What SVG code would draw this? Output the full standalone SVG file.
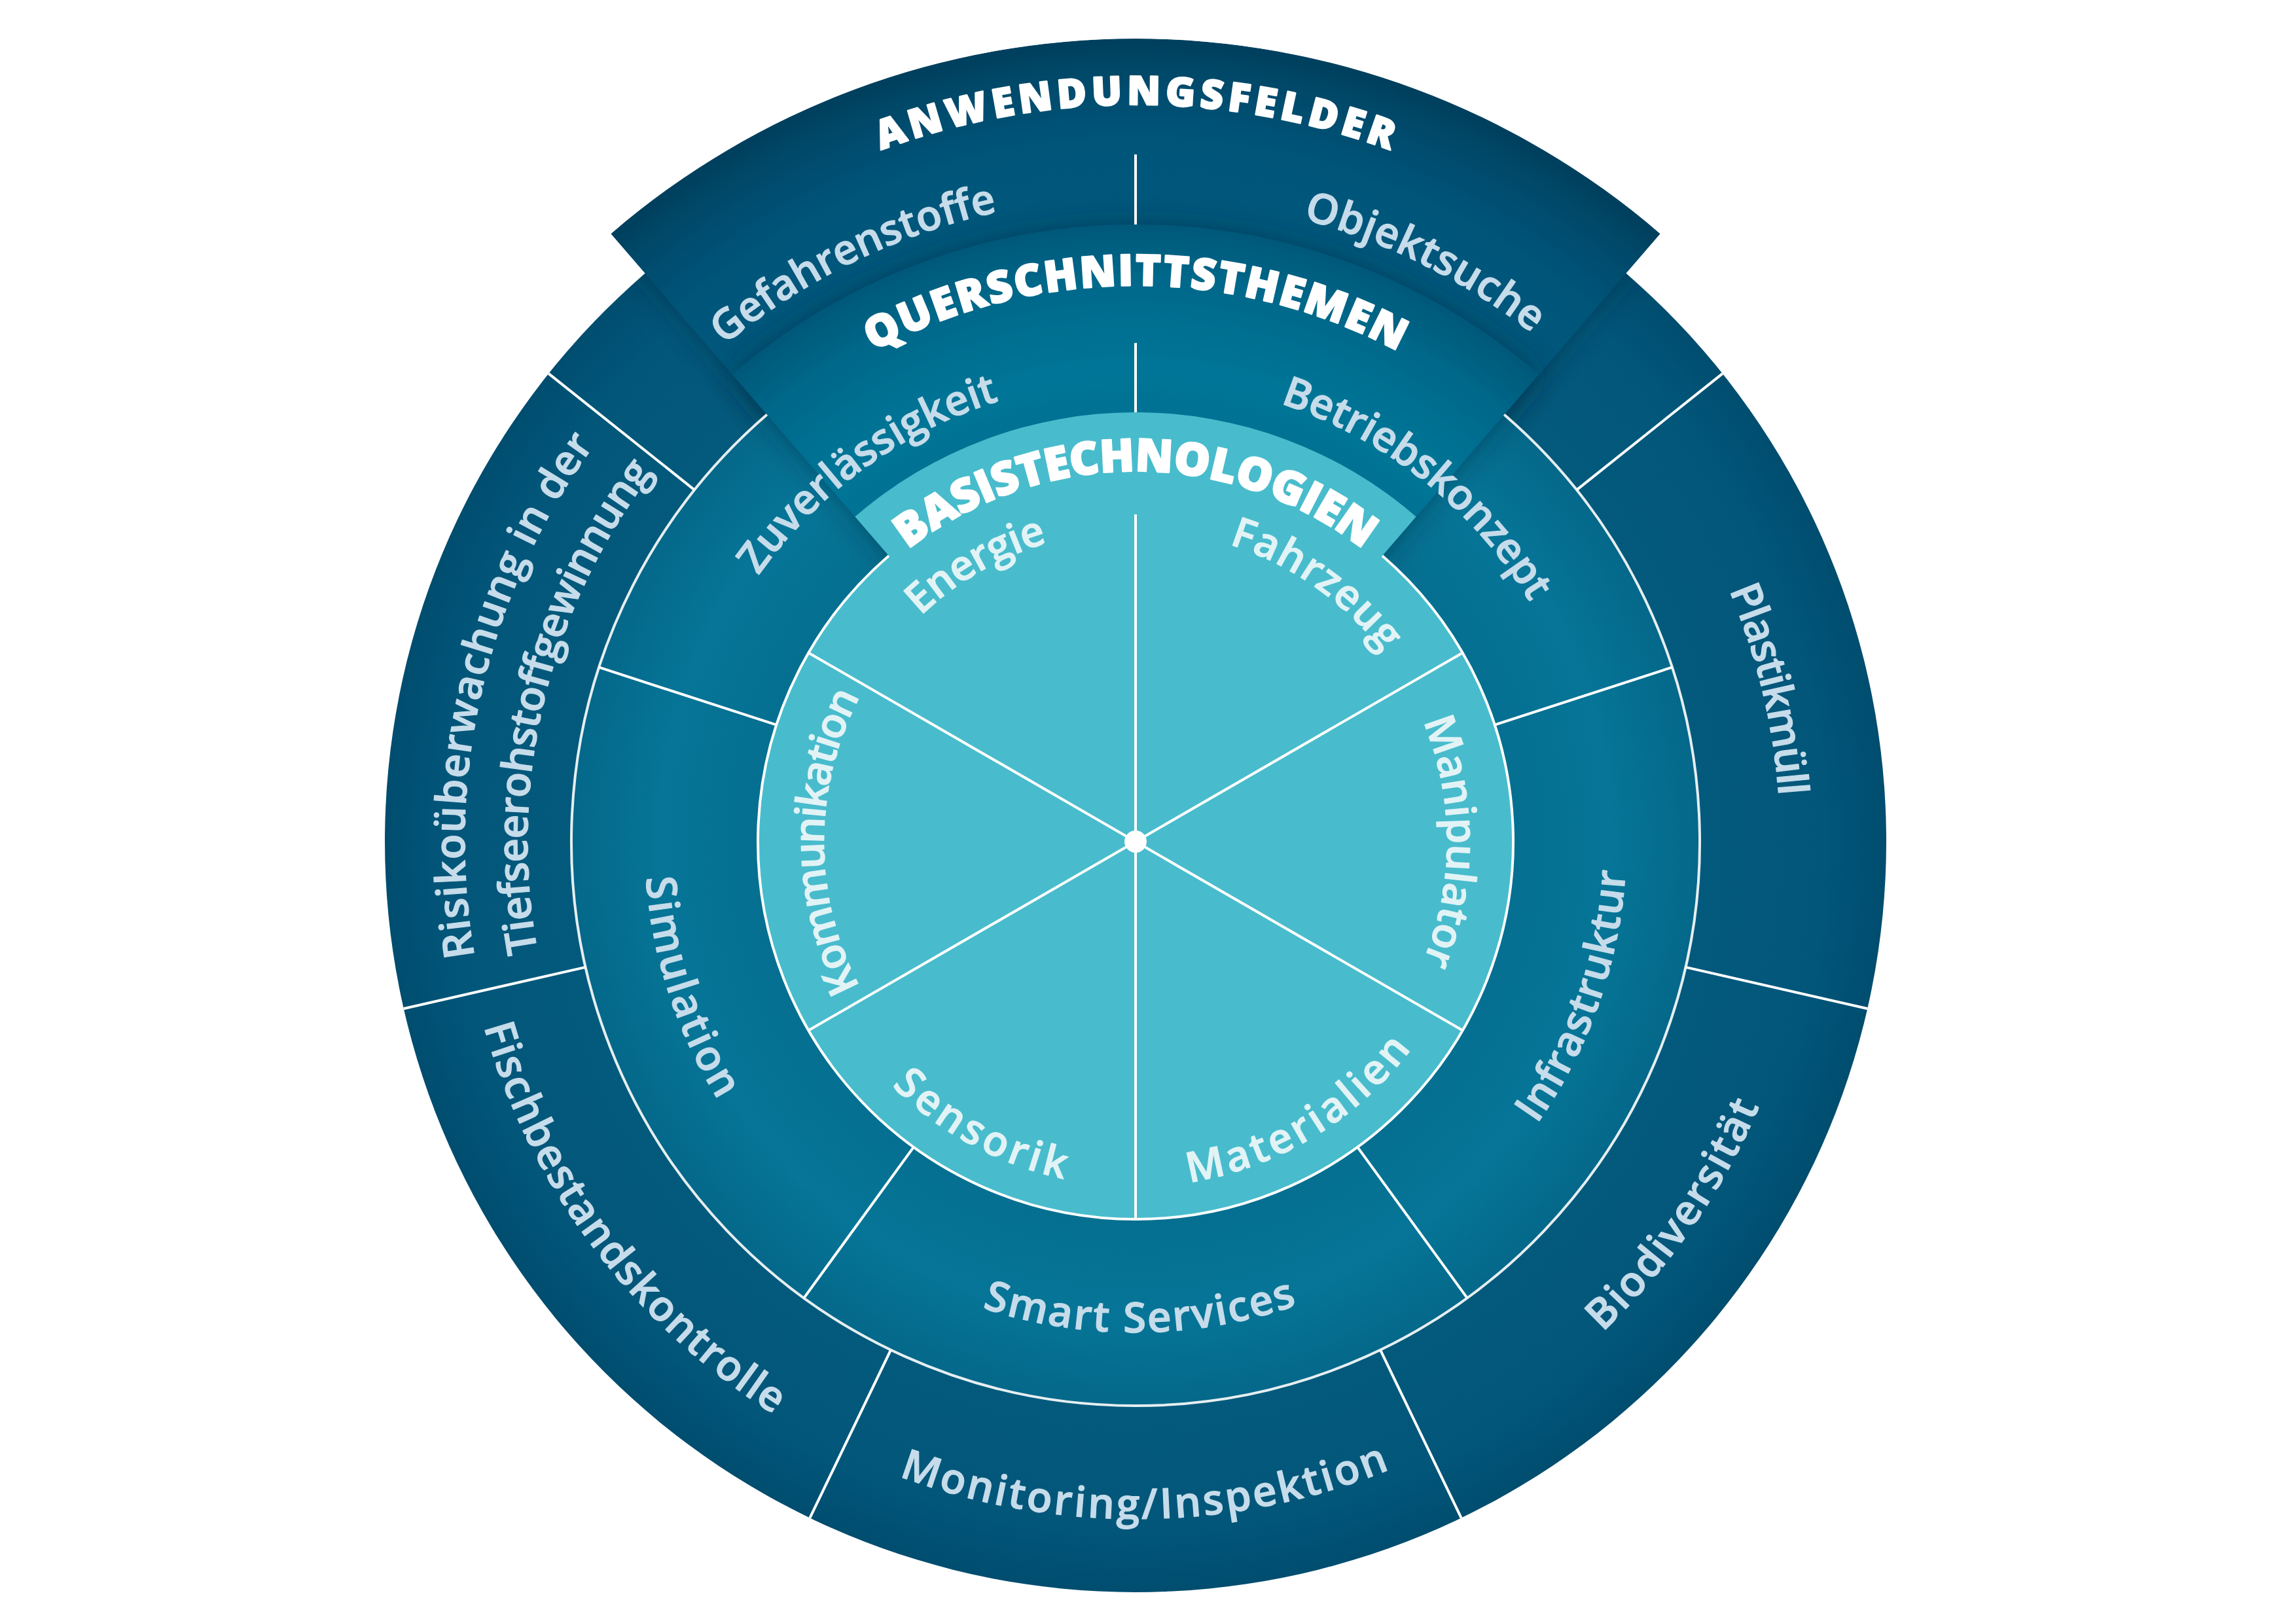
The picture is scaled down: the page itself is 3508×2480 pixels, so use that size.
<svg xmlns="http://www.w3.org/2000/svg" width="3508" height="2480" viewBox="0 0 3508 2480">
<defs>
<style>
.lbl{font-family:"Open Sans","Noto Sans","DejaVu Sans",sans-serif;font-size:64px;font-weight:600;fill:#c6dcea;stroke:#c6dcea;stroke-width:1.2;stroke-linejoin:round;text-anchor:middle}
.in{fill:#e2f3f6;stroke:#e2f3f6}
.head{font-weight:800;fill:#ffffff;stroke:#ffffff;stroke-width:2.5}
.sep{stroke:#ffffff;stroke-width:4;fill:none}
.ring{stroke:#e6eef1;stroke-width:4;fill:none}
</style>
<radialGradient id="gOuter" gradientUnits="userSpaceOnUse" cx="1735" cy="1286" r="1227">
<stop offset="0.70" stop-color="#035a7c"/>
<stop offset="0.86" stop-color="#02567a"/>
<stop offset="0.935" stop-color="#004d6f"/>
<stop offset="1" stop-color="#003f5d"/>
</radialGradient>
<radialGradient id="gMid" gradientUnits="userSpaceOnUse" cx="1735" cy="1286" r="943">
<stop offset="0.6" stop-color="#056f90"/>
<stop offset="0.77" stop-color="#067597"/>
<stop offset="0.914" stop-color="#04688a"/>
<stop offset="1" stop-color="#035879"/>
</radialGradient>
<filter id="shadow" x="-0.2" y="-0.2" width="1.4" height="1.4">
<feDropShadow dx="0" dy="0" stdDeviation="22" flood-color="#00263a" flood-opacity="0.5"/>
</filter>
<clipPath id="clipOuter"><path d="M933.3,357.2 A1227,1227 0 0 1 2536.7,357.2 L2484.5,417.7 A1147,1147 0 1 1 985.5,417.7 Z"/></clipPath>
<path id="cw476" d="M1259,1286 A476,476 0 0 1 2211,1286"/>
<path id="cw705" d="M1030,1286 A705,705 0 0 1 2440,1286"/>
<path id="cw985" d="M750,1286 A985,985 0 0 1 2720,1286"/>
<path id="cw1025" d="M710,1286 A1025,1025 0 0 1 2760,1286"/>
<path id="cw929" d="M806,1286 A929,929 0 0 1 2664,1286"/>
<path id="cw1126" d="M609,1286 A1126,1126 0 0 1 2861,1286"/>
<path id="cw850" d="M885,1286 A850,850 0 0 1 2585,1286"/>
<path id="cw566" d="M1169,1286 A566,566 0 0 1 2301,1286"/>
<path id="ccw527" d="M1208,1286 A527,527 0 0 0 2262,1286"/>
<path id="ccw750" d="M985,1286 A750,750 0 0 0 2485,1286"/>
<path id="ccw1035" d="M700,1286 A1035,1035 0 0 0 2770,1286"/>
</defs>
<rect width="3508" height="2480" fill="#ffffff"/>

<g id="rings">
<circle cx="1735" cy="1286" r="1147" fill="url(#gOuter)"/>
<path d="M1735,1286 L933.3,357.2 A1227,1227 0 0 1 2536.7,357.2 Z" fill="url(#gOuter)" filter="url(#shadow)" clip-path="url(#clipOuter)"/>
<circle cx="1735" cy="1286" r="862" fill="url(#gMid)"/>
<path d="M1735,1286 L1118.8,572.1 A943,943 0 0 1 2351.2,572.1 Z" fill="url(#gMid)" filter="url(#shadow)"/>
<path d="M1306.4,789.4 A656,656 0 0 1 2163.6,789.4 L2112.0,849.2 A577,577 0 1 1 1358.0,849.2 Z" fill="#48bccc"/>
</g>

<g id="connectors">
<path class="ring" d="M2298.2,633.5 A862,862 0 1 1 1171.8,633.5"/>
<path class="sep" d="M2112.0,849.2 A577,577 0 1 1 1358.0,849.2"/>
<g class="sep">
<line x1="1735" y1="1286" x2="1735" y2="786"/>
<line x1="1735" y1="1286" x2="1735" y2="709" transform="rotate(60 1735 1286)"/>
<line x1="1735" y1="1286" x2="1735" y2="709" transform="rotate(120 1735 1286)"/>
<line x1="1735" y1="1286" x2="1735" y2="709" transform="rotate(180 1735 1286)"/>
<line x1="1735" y1="1286" x2="1735" y2="709" transform="rotate(240 1735 1286)"/>
<line x1="1735" y1="1286" x2="1735" y2="709" transform="rotate(300 1735 1286)"/>
<line x1="1735" y1="630" x2="1735" y2="524"/>
<line x1="1735" y1="709" x2="1735" y2="424" transform="rotate(72 1735 1286)"/>
<line x1="1735" y1="709" x2="1735" y2="424" transform="rotate(144 1735 1286)"/>
<line x1="1735" y1="709" x2="1735" y2="424" transform="rotate(216 1735 1286)"/>
<line x1="1735" y1="709" x2="1735" y2="424" transform="rotate(288 1735 1286)"/>
<line x1="1735" y1="343" x2="1735" y2="236"/>
<line x1="1735" y1="424" x2="1735" y2="139" transform="rotate(51.43 1735 1286)"/>
<line x1="1735" y1="424" x2="1735" y2="139" transform="rotate(102.86 1735 1286)"/>
<line x1="1735" y1="424" x2="1735" y2="139" transform="rotate(154.29 1735 1286)"/>
<line x1="1735" y1="424" x2="1735" y2="139" transform="rotate(205.71 1735 1286)"/>
<line x1="1735" y1="424" x2="1735" y2="139" transform="rotate(257.14 1735 1286)"/>
<line x1="1735" y1="424" x2="1735" y2="139" transform="rotate(308.57 1735 1286)"/>
</g>
<circle cx="1735" cy="1286" r="17" fill="#ffffff"/>
</g>

<g id="headings">
<text class="lbl head" style="font-size:61px"><textPath href="#cw1126" startOffset="50%" textLength="794" lengthAdjust="spacing">ANWENDUNGSFELDER</textPath></text>
<text class="lbl head" style="font-size:66px"><textPath href="#cw850" startOffset="50%" textLength="835" lengthAdjust="spacing">QUERSCHNITTSTHEMEN</textPath></text>
<text class="lbl head" style="font-size:69px"><textPath href="#cw566" startOffset="50%" textLength="749" lengthAdjust="spacing">BASISTECHNOLOGIEN</textPath></text>
</g>

<g id="node-energie"><text class="lbl in" transform="rotate(330 1735 1286)"><textPath href="#cw476" startOffset="50%" textLength="226" lengthAdjust="spacing">Energie</textPath></text></g>
<g id="node-fahrzeug"><text class="lbl in" transform="rotate(35 1735 1286)"><textPath href="#cw476" startOffset="50%" textLength="292" lengthAdjust="spacing">Fahrzeug</textPath></text></g>
<g id="node-manipulator"><text class="lbl in" transform="rotate(90 1735 1286)"><textPath href="#cw476" startOffset="50%" textLength="377" lengthAdjust="spacing">Manipulator</textPath></text></g>
<g id="node-materialien"><text class="lbl in" transform="rotate(-31 1735 1286)"><textPath href="#ccw527" startOffset="50%" textLength="406" lengthAdjust="spacing">Materialien</textPath></text></g>
<g id="node-sensorik"><text class="lbl in" transform="rotate(28.5 1735 1286)"><textPath href="#ccw527" startOffset="50%" textLength="303" lengthAdjust="spacing">Sensorik</textPath></text></g>
<g id="node-kommunikation"><text class="lbl in" transform="rotate(270 1735 1286)"><textPath href="#cw476" startOffset="50%" textLength="462" lengthAdjust="spacing">Kommunikation</textPath></text></g>

<g id="node-zuverlaessigkeit"><text class="lbl" transform="rotate(324 1735 1286)"><textPath href="#cw705" startOffset="50%" textLength="463" lengthAdjust="spacing">Zuverlässigkeit</textPath></text></g>
<g id="node-betriebskonzept"><text class="lbl" transform="rotate(38.5 1735 1286)"><textPath href="#cw705" startOffset="50%" textLength="498" lengthAdjust="spacing">Betriebskonzept</textPath></text></g>
<g id="node-infrastruktur"><text class="lbl" transform="rotate(-70.7 1735 1286)"><textPath href="#ccw750" startOffset="50%" textLength="415" lengthAdjust="spacing">Infrastruktur</textPath></text></g>
<g id="node-smartservices"><text class="lbl" transform="rotate(-0.5 1735 1286)"><textPath href="#ccw750" startOffset="50%" textLength="490" lengthAdjust="spacing">Smart Services</textPath></text></g>
<g id="node-simulation"><text class="lbl" transform="rotate(72 1735 1286)"><textPath href="#ccw750" startOffset="50%" textLength="361" lengthAdjust="spacing">Simulation</textPath></text></g>

<g id="node-gefahrenstoffe"><text class="lbl" transform="rotate(334 1735 1286)"><textPath href="#cw985" startOffset="50%" textLength="469" lengthAdjust="spacing">Gefahrenstoffe</textPath></text></g>
<g id="node-objektsuche"><text class="lbl" transform="rotate(26.5 1735 1286)"><textPath href="#cw985" startOffset="50%" textLength="394" lengthAdjust="spacing">Objektsuche</textPath></text></g>
<g id="node-plastikmuell"><text class="lbl" transform="rotate(76.5 1735 1286)"><textPath href="#cw985" startOffset="50%" textLength="325" lengthAdjust="spacing">Plastikmüll</textPath></text></g>
<g id="node-biodiversitaet"><text class="lbl" transform="rotate(-55.3 1735 1286)"><textPath href="#ccw1035" startOffset="50%" textLength="423" lengthAdjust="spacing">Biodiversität</textPath></text></g>
<g id="node-monitoring"><text class="lbl" transform="rotate(-0.8 1735 1286)"><textPath href="#ccw1035" startOffset="50%" textLength="768" lengthAdjust="spacing">Monitoring/Inspektion</textPath></text></g>
<g id="node-fischbestand"><text class="lbl" transform="rotate(53.2 1735 1286)"><textPath href="#ccw1035" startOffset="50%" textLength="757" lengthAdjust="spacing">Fischbestandskontrolle</textPath></text></g>
<g id="node-risiko">
<text class="lbl" transform="rotate(283.2 1735 1286)"><textPath href="#cw1025" startOffset="50%" textLength="825" lengthAdjust="spacing">Risikoüberwachung in der</textPath></text>
<text class="lbl" transform="rotate(283.5 1735 1286)"><textPath href="#cw929" startOffset="50%" textLength="777" lengthAdjust="spacing">Tiefseerohstoffgewinnung</textPath></text>
</g>
</svg>
